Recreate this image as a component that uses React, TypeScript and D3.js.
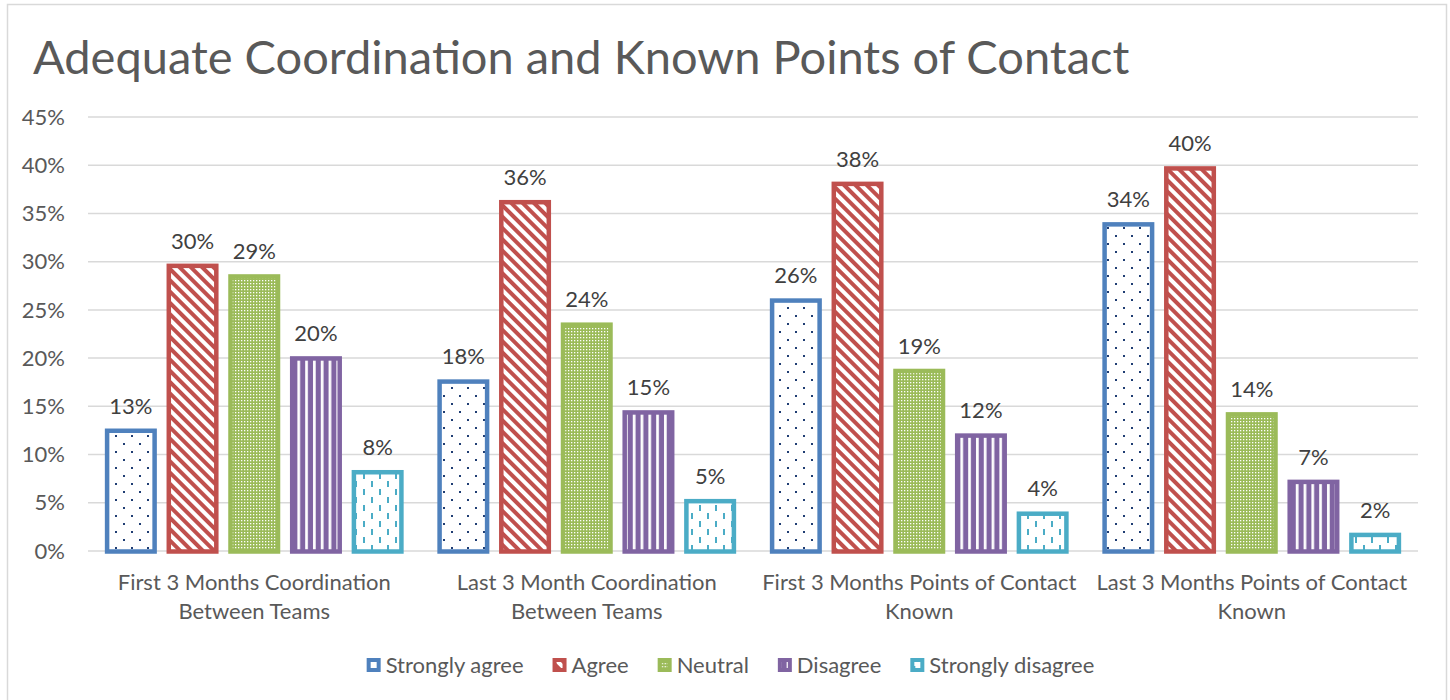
import React, { useEffect, useRef } from "react";
import * as d3 from "d3";

const title = "Adequate Coordination and Known Points of Contact";
const categories = [
  "First 3 Months Coordination Between Teams",
  "Last 3 Month Coordination Between Teams",
  "First 3 Months Points of Contact Known",
  "Last 3 Months Points of Contact Known",
];
const categoryLines = [
  ["First 3 Months Coordination", "Between Teams"],
  ["Last 3 Month Coordination", "Between Teams"],
  ["First 3 Months Points of Contact", "Known"],
  ["Last 3 Months Points of Contact", "Known"],
];
const seriesNames = ["Strongly agree", "Agree", "Neutral", "Disagree", "Strongly disagree"];
const seriesColors = ["#4f81bd", "#c0504d", "#9bbb59", "#8064a2", "#4bacc6"];
const stronglyAgree = [12.7, 17.8, 26.2, 34.1];
const agree = [29.8, 36.4, 38.3, 39.9];
const neutral = [28.7, 23.7, 18.9, 14.4];
const disagree = [20.2, 14.6, 12.2, 7.4];
const stronglyDisagree = [8.4, 5.4, 4.1, 1.9];
const labelValues = [
  [13, 18, 26, 34],
  [30, 36, 38, 40],
  [29, 24, 19, 14],
  [20, 15, 12, 7],
  [8, 5, 4, 2],
];
const yTicks = [0, 5, 10, 15, 20, 25, 30, 35, 40, 45];

const FONT = "Lato, 'Open Sans', sans-serif";

export default function App() {
  const ref = useRef<SVGSVGElement>(null);
  useEffect(() => {
    const svg = d3.select(ref.current);
    svg.selectAll("*").remove();
    const W = 1450, H = 700;
    const series = [stronglyAgree, agree, neutral, disagree, stronglyDisagree];

    const defs = svg.append("defs");
    const pb = defs.append("pattern").attr("id", "p0").attr("patternUnits", "userSpaceOnUse").attr("width", 16).attr("height", 16);
    pb.append("rect").attr("width", 16).attr("height", 16).attr("fill", "#fff");
    pb.append("rect").attr("x", 3).attr("y", 3).attr("width", 2).attr("height", 2).attr("fill", "#1f3d73");
    pb.append("rect").attr("x", 11).attr("y", 11).attr("width", 2).attr("height", 2).attr("fill", "#1f3d73");
    const pr = defs.append("pattern").attr("id", "p1").attr("patternUnits", "userSpaceOnUse").attr("width", 8).attr("height", 8).attr("patternTransform", "rotate(-45)");
    pr.append("rect").attr("width", 8).attr("height", 8).attr("fill", "#fff");
    pr.append("rect").attr("width", 4).attr("height", 8).attr("fill", seriesColors[1]);
    const pg = defs.append("pattern").attr("id", "p2").attr("patternUnits", "userSpaceOnUse").attr("width", 3).attr("height", 3);
    pg.append("rect").attr("width", 3).attr("height", 3).attr("fill", seriesColors[2]);
    pg.append("rect").attr("x", 1).attr("y", 1).attr("width", 1.3).attr("height", 1.3).attr("fill", "#fff");
    const pp = defs.append("pattern").attr("id", "p3").attr("patternUnits", "userSpaceOnUse").attr("width", 7.8).attr("height", 8);
    pp.append("rect").attr("width", 7.8).attr("height", 8).attr("fill", seriesColors[3]);
    pp.append("rect").attr("x", 1).attr("width", 2.7).attr("height", 8).attr("fill", "#fff");
    const pc = defs.append("pattern").attr("id", "p4").attr("patternUnits", "userSpaceOnUse").attr("width", 16).attr("height", 16);
    pc.append("rect").attr("width", 16).attr("height", 16).attr("fill", "#fff");
    pc.append("rect").attr("x", 3).attr("y", 1).attr("width", 2).attr("height", 6).attr("fill", seriesColors[4]);
    pc.append("rect").attr("x", 11).attr("y", 9).attr("width", 2).attr("height", 6).attr("fill", seriesColors[4]);

    svg.append("rect").attr("width", W).attr("height", H).attr("fill", "#fff");
    svg.append("rect").attr("x", 7.5).attr("y", 4.5).attr("width", 1439).attr("height", 710)
      .attr("fill", "#fff").attr("stroke", "#d9d9d9").attr("stroke-width", 1.5);

    svg.append("text").attr("x", 33).attr("y", 74).attr("font-family", FONT).attr("font-size", 47)
      .attr("fill", "#595959").text(title);

    const x0 = d3.scaleBand().domain(categories).range([88, 1418]).paddingInner(0).paddingOuter(0);
    const x1 = d3.scaleBand().domain(seriesNames).range([0, x0.bandwidth()]).paddingInner(0.157).paddingOuter(0.273);
    const y = d3.scaleLinear().domain([0, 45]).range([551, 117]);

    const grid = svg.append("g");
    yTicks.forEach((t) => {
      grid.append("line").attr("x1", 88).attr("x2", 1418).attr("y1", y(t)).attr("y2", y(t))
        .attr("stroke", "#d9d9d9").attr("stroke-width", 1.5);
      grid.append("text").attr("x", 65).attr("y", y(t)).attr("dy", "0.35em").attr("text-anchor", "end")
        .attr("font-family", FONT).attr("font-size", 22).attr("fill", "#595959").text(`${t}%`);
    });

    const sw = 4.5;
    series.forEach((vals, si) => {
      const g = svg.append("g");
      vals.forEach((v, ci) => {
        const bx = (x0(categories[ci]) as number) + (x1(seriesNames[si]) as number);
        const bw = x1.bandwidth();
        g.append("rect").attr("x", bx + sw / 2).attr("y", y(v) + sw / 2)
          .attr("width", bw - sw).attr("height", y(0) - y(v) - sw / 2 + 0.5)
          .attr("fill", `url(#p${si})`).attr("stroke", seriesColors[si]).attr("stroke-width", sw);
        g.append("text").attr("x", bx + bw / 2).attr("y", y(v) - 15).attr("text-anchor", "middle")
          .attr("font-family", FONT).attr("font-size", 22).attr("fill", "#404040").text(`${labelValues[si][ci]}%`);
      });
    });

    categories.forEach((c, ci) => {
      const cx = (x0(c) as number) + x0.bandwidth() / 2;
      categoryLines[ci].forEach((line, li) => {
        svg.append("text").attr("x", cx).attr("y", 590 + li * 29).attr("text-anchor", "middle")
          .attr("font-family", FONT).attr("font-size", 22).attr("fill", "#595959").text(line);
      });
    });

    const lg = svg.append("g");
    const items: { g: any; w: number }[] = [];
    seriesNames.forEach((n, si) => {
      const it = lg.append("g");
      it.append("rect").attr("x", 2).attr("y", -5).attr("width", 10).attr("height", 10)
        .attr("fill", `url(#p${si})`).attr("stroke", seriesColors[si]).attr("stroke-width", 4);
      const t = it.append("text").attr("x", 19).attr("y", 0).attr("dy", "0.35em")
        .attr("font-family", FONT).attr("font-size", 22).attr("fill", "#595959").text(n);
      const tw = (t.node() as SVGTextElement).getComputedTextLength();
      items.push({ g: it, w: 19 + tw });
    });
    const gap = 29;
    const total = items.reduce((a, b) => a + b.w, 0) + gap * (items.length - 1);
    let cx = 730.5 - total / 2;
    items.forEach((it) => {
      it.g.attr("transform", `translate(${cx},665)`);
      cx += it.w + gap;
    });
  }, []);
  return (
    <svg ref={ref} width={1450} height={700}
      style={{ position: "absolute", left: 0, top: 0, display: "block" }} />
  );
}
